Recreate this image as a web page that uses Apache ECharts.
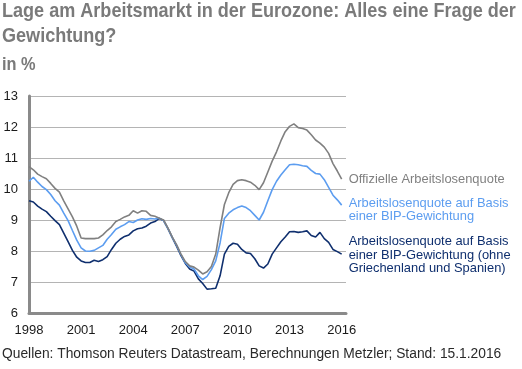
<!DOCTYPE html>
<html>
<head>
<meta charset="utf-8">
<script src="https://cdn.jsdelivr.net/npm/echarts@6/dist/echarts.min.js"></script>
<style>
html,body{margin:0;padding:0;background:#fff;}
#c{width:522px;height:369px;}
</style>
</head>
<body>
<div id="c"></div>
<script>
// Quarterly time points (decimal years)
const dates = [
 1998.00,1998.25,1998.50,1998.75,1999.00,1999.25,1999.50,1999.75,
 2000.00,2000.25,2000.50,2000.75,2001.00,2001.25,2001.50,2001.75,
 2002.00,2002.25,2002.50,2002.75,2003.00,2003.25,2003.50,2003.75,
 2004.00,2004.25,2004.50,2004.75,2005.00,2005.25,2005.50,2005.75,
 2006.00,2006.25,2006.50,2006.75,2007.00,2007.25,2007.50,2007.75,
 2008.00,2008.25,2008.50,2008.75,2009.00,2009.25,2009.50,2009.75,
 2010.00,2010.25,2010.50,2010.75,2011.00,2011.25,2011.50,2011.75,
 2012.00,2012.25,2012.50,2012.75,2013.00,2013.25,2013.50,2013.75,
 2014.00,2014.25,2014.50,2014.75,2015.00,2015.25,2015.50,2015.75,
 2016.00
];
// Offizielle Arbeitslosenquote
const official = [
 10.72,10.62,10.48,10.40,10.33,10.18,10.02,9.90,
 9.62,9.36,9.10,8.80,8.42,8.40,8.40,8.40,
 8.42,8.52,8.66,8.78,8.95,9.02,9.10,9.15,
 9.30,9.22,9.30,9.28,9.15,9.12,9.06,9.00,
 8.74,8.45,8.20,7.90,7.66,7.52,7.48,7.38,
 7.26,7.33,7.50,7.90,8.75,9.50,9.88,10.15,
 10.27,10.30,10.27,10.22,10.12,9.98,10.20,10.55,
 10.90,11.20,11.55,11.85,12.02,12.10,11.98,11.95,
 11.90,11.75,11.58,11.48,11.35,11.15,10.82,10.58,
 10.32
];
// Arbeitslosenquote auf Basis einer BIP-Gewichtung
const gdpWeighted = [
 10.25,10.38,10.22,10.08,9.98,9.82,9.62,9.48,
 9.22,8.98,8.66,8.35,8.10,8.00,7.99,8.02,
 8.10,8.18,8.38,8.53,8.70,8.78,8.85,8.95,
 8.92,9.00,9.04,9.02,9.05,9.03,9.06,8.98,
 8.72,8.43,8.18,7.88,7.62,7.48,7.42,7.20,
 7.08,7.18,7.40,7.68,8.26,9.05,9.22,9.33,
 9.40,9.45,9.40,9.30,9.15,9.00,9.25,9.62,
 9.98,10.25,10.45,10.62,10.78,10.80,10.78,10.75,
 10.73,10.60,10.50,10.48,10.30,10.05,9.80,9.65,
 9.48
];
// Arbeitslosenquote auf Basis einer BIP-Gewichtung (ohne Griechenland und Spanien)
const gdpWeightedExGrEs = [
 9.62,9.58,9.45,9.35,9.27,9.12,8.98,8.85,
 8.58,8.30,8.02,7.80,7.68,7.63,7.63,7.70,
 7.66,7.72,7.82,8.05,8.25,8.38,8.47,8.52,
 8.65,8.72,8.74,8.80,8.90,8.95,9.05,8.98,
 8.72,8.43,8.15,7.85,7.60,7.42,7.35,7.10,
 6.95,6.77,6.78,6.80,7.20,7.90,8.15,8.25,
 8.22,8.05,7.94,7.92,7.75,7.52,7.45,7.58,
 7.90,8.10,8.30,8.45,8.62,8.63,8.60,8.62,
 8.65,8.50,8.45,8.60,8.40,8.28,8.05,7.98,
 7.90
];
const xTicks = [1998,2001,2004,2007,2010,2013,2016];
const names = [
 'Offizielle Arbeitslosenquote',
 'Arbeitslosenquote auf Basis\neiner BIP-Gewichtung',
 'Arbeitslosenquote auf Basis\neiner BIP-Gewichtung (ohne\nGriechenland und Spanien)'
];
const colors = ['#808080','#5c9df0','#0f2f6e'];

const pair = vals => dates.map((d,i)=>[d, vals[i]]);
const font = '"Liberation Sans", Arial, sans-serif';

function mk(name, vals, color, offY){
  return {
    type:'line', name:name, data:pair(vals), showSymbol:false, symbol:'none',
    lineStyle:{color:color, width:1.6}, itemStyle:{color:color},
    animation:false,
    endLabel:{show:true, formatter:name, color:color, fontFamily:font, fontSize:12.9,
      lineHeight:13.4, distance:7, offset:[0,offY], align:'left', verticalAlign:'middle'}
  };
}

const titleFont = 'bold 21px "Liberation Sans", Arial, sans-serif';
const chart = echarts.init(document.getElementById('c'), null, {renderer:'canvas'});
chart.setOption({
  animation:false,
  backgroundColor:'#fff',
  grid:{left:29, right:176, top:96, bottom:56, containLabel:false},
  xAxis:{
    type:'value', min:1998, max:2016.25, interval:3,
    axisLine:{show:true, lineStyle:{color:'#8a8a8a', width:3}},
    axisTick:{show:false},
    splitLine:{show:false},
    axisLabel:{color:'#1a1a1a', fontFamily:font, fontSize:13, margin:11,
      showMaxLabel:false,
      formatter: v => xTicks.indexOf(Math.round(v*100)/100)>=0 ? String(v) : ''}
  },
  yAxis:{
    type:'value', min:6, max:13, interval:1,
    axisLine:{show:true, lineStyle:{color:'#8a8a8a', width:3}},
    axisTick:{show:false},
    splitLine:{show:true, lineStyle:{color:'#b4b4b4', width:1}},
    axisLabel:{color:'#1a1a1a', fontFamily:font, fontSize:13, margin:11}
  },
  series:[
    mk(names[2], gdpWeightedExGrEs, colors[2], 1),
    mk(names[1], gdpWeighted, colors[1], 5),
    mk(names[0], official, colors[0], 0)
  ],
  graphic:[
    {type:'text', x:2, y:1, scaleX:0.86, scaleY:1,
     style:{text:'Lage am Arbeitsmarkt in der Eurozone: Alles eine Frage der', font:titleFont, fill:'#7a7a7a'}},
    {type:'text', x:2, y:26, scaleX:0.86, scaleY:1,
     style:{text:'Gewichtung?', font:titleFont, fill:'#7a7a7a'}},
    {type:'text', x:2, y:55, scaleX:0.86, scaleY:1,
     style:{text:'in %', font:'bold 19px "Liberation Sans", Arial, sans-serif', fill:'#7a7a7a'}},
    {type:'text', left:2, top:347,
     style:{text:'Quellen: Thomson Reuters Datastream, Berechnungen Metzler; Stand: 15.1.2016',
      font:'13.8px "Liberation Sans", Arial, sans-serif', fill:'#2a2a2a'}}
  ]
});
</script>
</body>
</html>
